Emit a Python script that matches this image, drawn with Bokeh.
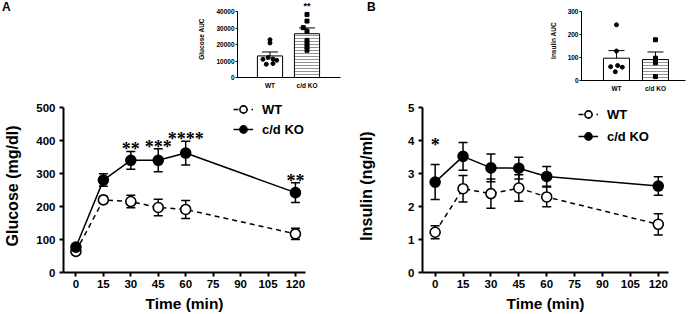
from bokeh.plotting import figure
from bokeh.models import (Range1d, FixedTicker, ColumnDataSource, Whisker, TeeHead,
                          Legend, LegendItem, LabelSet, Label, Div)
from bokeh.layouts import row, column
from bokeh.embed import file_html
from bokeh.resources import INLINE

FONT = "Liberation Sans"

# ---------------- data ----------------
time_min = [0, 15, 30, 45, 60, 120]
time_ticks = [0, 15, 30, 45, 60, 75, 90, 105, 120]

glucose_wt = [64, 220, 215, 197, 191, 117]
glucose_wt_sem = [6, 10, 19, 25, 27, 17]
glucose_ko = [77, 280, 340, 340, 362, 242]
glucose_ko_sem = [8, 19, 27, 35, 36, 30]

insulin_wt = [1.22, 2.54, 2.39, 2.56, 2.29, 1.46]
insulin_wt_sem = [0.2, 0.4, 0.44, 0.4, 0.3, 0.32]
insulin_ko = [2.74, 3.52, 3.17, 3.16, 2.91, 2.62]
insulin_ko_sem = [0.53, 0.42, 0.42, 0.33, 0.3, 0.28]

glucose_star_times = [30, 45, 60, 120]
glucose_star_text = ["**", "***", "****", "**"]
insulin_star_times = [0]
insulin_star_text = ["*"]

groups = ["WT", "c/d KO"]
glucose_auc_mean = [13070, 26530]
glucose_auc_sem = [2400, 3500]
glucose_auc_wt_pts = [22900, 20900, 11050, 12060, 11250, 10450, 8040, 8440]
glucose_auc_ko_pts = [38200, 34200, 30200, 28000, 22500, 20500, 18500, 16500]
glucose_auc_star = "**"

insulin_auc_mean = [97, 91]
insulin_auc_sem = [33, 33]
insulin_auc_wt_pts = [242, 128, 60, 65, 58, 38]
insulin_auc_ko_pts = [177, 97, 87, 77, 17]

panel_letters = ["A", "B"]

# horizontal jitter of the individual points (style)
glucose_wt_jit = [0, 0, -0.19, -0.05, 0.08, 0.18, -0.1, 0.08]
glucose_ko_jit = [0, 0, -0.1, 0, 0, 0, 0, 0]
insulin_wt_jit = [0, 0, -0.15, 0.03, 0.15, -0.03]
insulin_ko_jit = [0, 0, 0, 0, 0]


def style_axes(p, tick_size, axis_w, tick_out):
    for ax in (p.xaxis[0], p.yaxis[0]):
        ax.axis_line_width = axis_w
        ax.axis_line_color = "black"
        ax.major_tick_line_width = axis_w
        ax.major_tick_line_color = "black"
        ax.major_tick_out = tick_out
        ax.major_tick_in = 0
        ax.minor_tick_line_color = None
        ax.major_label_text_font = FONT
        ax.major_label_text_font_style = "bold"
        ax.major_label_text_font_size = tick_size
        ax.major_label_text_color = "black"
        ax.axis_label_text_font = FONT
        ax.axis_label_text_font_style = "bold"
        ax.axis_label_text_color = "black"
    p.grid.visible = False
    p.outline_line_color = None
    p.background_fill_color = "white"
    p.border_fill_color = "white"


def main_panel(width, left, right, y_end, y_ticks, ylabel, wt, wt_sem, ko, ko_sem,
               star_t, star_txt, star_off, legend_xy, legend_spacing, ylabel_standoff):
    # frame: 173 px tall, the axis itself covers the lower 165 px (0..y_end)
    p = figure(width=width, height=219, x_range=Range1d(-6.8, 125.5),
               y_range=Range1d(0, y_end * 173.0 / 165.0), toolbar_location=None,
               output_backend="svg", min_border_left=left, min_border_right=right,
               min_border_top=4, min_border_bottom=42)
    style_axes(p, "11.5px", 2, 4)
    p.yaxis.bounds = (0, y_end)
    p.xaxis.ticker = FixedTicker(ticks=time_ticks)
    p.yaxis.ticker = FixedTicker(ticks=y_ticks)
    p.xaxis.axis_label = "Time (min)"
    p.yaxis.axis_label = ylabel
    p.xaxis.axis_label_text_font_size = "15.5px"
    p.yaxis.axis_label_text_font_size = "16px"
    p.xaxis.major_label_standoff = 3
    p.yaxis.major_label_standoff = 4
    p.xaxis.axis_label_standoff = 4
    p.yaxis.axis_label_standoff = ylabel_standoff

    src_wt = ColumnDataSource(dict(t=time_min, m=wt,
                                   up=[a + b for a, b in zip(wt, wt_sem)],
                                   lo=[a - b for a, b in zip(wt, wt_sem)]))
    src_ko = ColumnDataSource(dict(t=time_min, m=ko,
                                   up=[a + b for a, b in zip(ko, ko_sem)],
                                   lo=[a - b for a, b in zip(ko, ko_sem)]))
    for s in (src_wt, src_ko):
        w = Whisker(source=s, base="t", upper="up", lower="lo", line_width=1.5,
                    line_color="black", level="underlay",
                    upper_head=TeeHead(size=9, line_width=1.5, line_color="black"),
                    lower_head=TeeHead(size=9, line_width=1.5, line_color="black"))
        p.add_layout(w)

    l_wt = p.line("t", "m", source=src_wt, line_color="black", line_width=1.5,
                  line_dash="5 4")
    l_ko = p.line("t", "m", source=src_ko, line_color="black", line_width=1.5)
    m_wt = p.scatter("t", "m", source=src_wt, size=10, marker="circle",
                     fill_color="white", line_color="black", line_width=1.6)
    m_ko = p.scatter("t", "m", source=src_ko, size=10, marker="circle",
                     fill_color="black", line_color="black", line_width=1.6)

    ko_up = dict(zip(time_min, [a + b for a, b in zip(ko, ko_sem)]))
    star_src = ColumnDataSource(dict(t=star_t, y=[ko_up[t] for t in star_t],
                                     s=star_txt))
    p.add_layout(LabelSet(x="t", y="y", text="s", source=star_src, y_offset=star_off,
                          text_align="center", text_baseline="alphabetic",
                          text_font=FONT, text_font_style="bold",
                          text_font_size="18px", text_color="black"))

    legend = Legend(items=[LegendItem(label="WT", renderers=[l_wt, m_wt]),
                           LegendItem(label="c/d KO", renderers=[l_ko, m_ko])],
                    location=legend_xy, padding=0, margin=0, spacing=legend_spacing,
                    glyph_width=20, glyph_height=18, label_standoff=9,
                    border_line_color=None, background_fill_alpha=0,
                    label_text_font=FONT, label_text_font_style="bold",
                    label_text_font_size="13px", label_text_color="black")
    p.add_layout(legend)
    return p


def inset_panel(width, left, right, bottom, axis_px, x0, x1, y_end, y_ticks, ylabel,
                mean, sem, wt_pts, wt_jit, ko_pts, ko_jit, bar_w, star=None):
    frame_px = 95 - bottom
    p = figure(width=width, height=95, x_range=Range1d(x0, x1),
               y_range=Range1d(0, y_end * frame_px / axis_px), toolbar_location=None,
               output_backend="svg", min_border_left=left, min_border_right=right,
               min_border_top=0, min_border_bottom=bottom)
    style_axes(p, "6.5px", 1, 2)
    p.yaxis.bounds = (0, y_end)
    p.xaxis.ticker = FixedTicker(ticks=[0, 1])
    p.xaxis.major_label_overrides = {0: groups[0], 1: groups[1]}
    p.xaxis.major_tick_out = 0
    p.xaxis.major_label_standoff = 4
    p.yaxis.ticker = FixedTicker(ticks=y_ticks)
    p.yaxis.major_label_standoff = 1
    p.yaxis.axis_label = ylabel
    p.yaxis.axis_label_text_font_size = "6.5px"
    p.yaxis.axis_label_standoff = 8
    idx = list(range(len(groups)))
    p.vbar(x=[idx[0]], top=[mean[0]], width=bar_w, fill_color="white",
           line_color="black", line_width=1)
    p.vbar(x=[idx[1]], top=[mean[1]], width=bar_w, fill_color="white",
           line_color="black", line_width=1, hatch_pattern="horizontal_line",
           hatch_scale=3, hatch_weight=0.7, hatch_color="#666666")
    src = ColumnDataSource(dict(x=idx, up=[a + b for a, b in zip(mean, sem)],
                                lo=[a - b for a, b in zip(mean, sem)]))
    p.add_layout(Whisker(source=src, base="x", upper="up", lower="lo", line_width=1,
                         line_color="black",
                         upper_head=TeeHead(size=16, line_width=1, line_color="black"),
                         lower_head=TeeHead(size=16, line_width=1, line_color="black")))
    p.scatter([idx[0] + j for j in wt_jit], wt_pts, marker="circle", size=4,
              fill_color="black", line_color="black")
    p.scatter([idx[1] + j for j in ko_jit], ko_pts, marker="square", size=4,
              fill_color="black", line_color="black")
    if star:
        p.add_layout(Label(x=idx[1], y=y_end, text=star, y_offset=6, text_align="center",
                           text_baseline="alphabetic", text_font=FONT,
                           text_font_style="bold", text_font_size="9px",
                           text_color="black"))
    return p


def letter_div(letter, pad_left):
    return Div(text=letter, width=195, height=95,
               styles={"font-family": FONT, "font-weight": "bold", "font-size": "12px",
                       "color": "black", "padding-left": f"{pad_left}px",
                       "padding-top": "0px", "line-height": "14px", "margin": "0px"})


ia = inset_panel(150, 42, 5, 18, 66, -0.878, 1.905, 40000,
                 [0, 10000, 20000, 30000, 40000], "Glucose AUC",
                 glucose_auc_mean, glucose_auc_sem, glucose_auc_wt_pts, glucose_wt_jit,
                 glucose_auc_ko_pts, glucose_ko_jit, 0.68, star=glucose_auc_star)
ib = inset_panel(149, 41, 4, 15, 69, -0.897, 1.77, 300, [0, 100, 200, 300],
                 "Insulin AUC",
                 insulin_auc_mean, insulin_auc_sem, insulin_auc_wt_pts, insulin_wt_jit,
                 insulin_auc_ko_pts, insulin_ko_jit, 0.667)

ma = main_panel(345, 63, 40, 500, [0, 100, 200, 300, 400, 500], "Glucose (mg/dl)",
                glucose_wt, glucose_wt_sem, glucose_ko, glucose_ko_sem,
                glucose_star_times, glucose_star_text, -4, (170, 134), 2, 12)
mb = main_panel(344, 77, 21, 5, [0, 1, 2, 3, 4, 5], "Insulin (ng/ml)",
                insulin_wt, insulin_wt_sem, insulin_ko, insulin_ko_sem,
                insulin_star_times, insulin_star_text, 14, (156, 127), 4, 30)

top_a = row(letter_div(panel_letters[0], 2), ia)
top_b = row(letter_div(panel_letters[1], 22), ib)
layout = row(column(top_a, ma), column(top_b, mb))
open("out.html", "w").write(file_html(layout, INLINE))
